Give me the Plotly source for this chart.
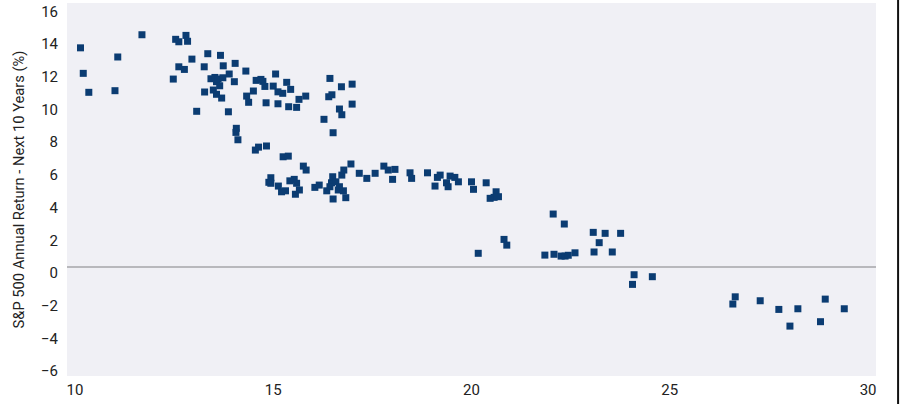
import plotly.graph_objects as go

# Shiller-style CAPE (x) vs S&P 500 annual return over the next 10 years (y, %)
cape = [
    10.14, 10.21, 10.35, 11.01, 11.08, 11.69, 12.48, 12.54, 12.62, 12.80,
    12.84, 12.62, 12.76, 12.95, 13.07, 13.26, 13.27, 13.35, 13.43, 13.49,
    13.53, 13.57, 13.61, 13.65, 13.57, 13.70, 13.67, 13.74, 13.73, 13.89,
    13.87, 14.02, 14.04, 14.07, 14.06, 14.11, 14.31, 14.33, 14.38, 14.50,
    14.55, 14.63, 14.83, 14.57, 14.69, 14.74, 14.79, 14.82, 15.06, 15.00,
    15.12, 15.24, 15.12, 15.34, 15.44, 15.39, 15.59, 15.65, 15.82,
    14.89, 14.94, 14.94, 15.13, 15.21, 15.31, 15.25, 15.38, 15.53, 15.42,
    15.56, 15.59, 15.66, 15.76, 15.83, 16.05, 16.16, 16.35, 16.47, 16.50,
    16.58, 16.64, 16.77, 16.51, 16.83, 16.73, 16.78, 16.96, 17.17, 17.36,
    17.57, 16.43, 16.67, 17.79, 17.90, 18.07, 18.01, 18.45, 18.49, 18.89,
    19.14, 19.21, 19.08, 19.37, 19.41, 19.46, 19.58, 19.67, 20.00, 20.05,
    20.37, 20.62, 20.57, 20.47, 20.68, 20.82, 20.89, 20.17, 21.85, 22.06,
    22.34, 22.08, 22.26, 22.36, 22.44, 22.61, 23.07, 23.37, 23.76, 23.22,
    23.09, 23.55, 24.10, 24.06, 24.56, 26.65, 26.59, 27.28, 27.75, 28.03,
    28.23, 28.92, 28.80, 29.40,
    16.43, 16.72, 16.40, 16.48, 16.67, 16.73, 16.28, 16.51, 16.99, 16.99,
]
returns_10y = [
    13.40, 11.84, 10.68, 10.78, 12.84, 14.20, 11.49, 13.92, 13.77, 14.16,
    13.80, 12.24, 12.08, 12.71, 9.52, 12.24, 10.70, 13.04, 11.51, 10.82,
    11.59, 11.33, 11.49, 11.08, 10.56, 10.33, 12.94, 12.30, 11.57, 11.80,
    9.49, 11.33, 12.45, 8.48, 8.23, 7.78, 11.98, 10.45, 10.07, 10.76,
    7.15, 7.33, 7.40, 11.41, 11.47, 11.35, 11.04, 10.04, 11.80, 11.06,
    10.71, 10.62, 9.98, 11.29, 10.86, 9.80, 9.76, 10.25, 10.45,
    5.18, 5.46, 5.12, 4.95, 4.60, 4.66, 6.74, 6.78, 5.36, 5.27,
    4.45, 5.12, 4.71, 6.17, 5.93, 4.87, 5.01, 4.66, 5.15, 5.52,
    5.21, 4.71, 4.66, 4.16, 4.24, 5.62, 5.93, 6.30, 5.73, 5.42,
    5.73, 4.91, 4.91, 6.17, 5.93, 5.97, 5.36, 5.76, 5.42, 5.76,
    5.48, 5.62, 4.95, 5.15, 4.91, 5.56, 5.48, 5.21, 5.21, 4.75,
    5.15, 4.60, 4.26, 4.20, 4.30, 1.69, 1.34, 0.84, 0.73, 3.24,
    2.63, 0.78, 0.67, 0.67, 0.72, 0.87, 2.12, 2.06, 2.06, 1.49,
    0.92, 0.92, -0.47, -1.06, -0.59, -1.82, -2.26, -2.06, -2.59, -3.61,
    -2.55, -1.96, -3.34, -2.55,
    11.53, 11.02, 10.41, 10.53, 9.66, 9.31, 9.03, 8.21, 11.18, 9.96,
]

x_ticks = [10, 15, 20, 25, 30]
y_ticks = [-6, -4, -2, 0, 2, 4, 6, 8, 10, 12, 14, 16]
y_title = "S&P 500 Annual Return - Next 10 Years (%)"

fig = go.Figure()
fig.add_trace(go.Scatter(
    x=cape, y=returns_10y, mode="markers",
    marker=dict(symbol="square", size=7, color="#0b3c72"),
    hoverinfo="x+y", showlegend=False,
))

fig.update_layout(
    width=901, height=404,
    margin=dict(l=67, r=25, t=3, b=28),
    paper_bgcolor="white",
    plot_bgcolor="#f0f0f5",
    font=dict(family="Roboto, Inter, sans-serif", size=15, color="#222222"),
    xaxis=dict(
        range=[9.8, 30.2], tickvals=x_ticks, showgrid=False, zeroline=False,
        showline=False, ticks="", ticklabelstandoff=3,
        tickfont=dict(size=15, color="#222222"),
    ),
    yaxis=dict(
        range=[-6.66, 16.14], tickvals=y_ticks, showgrid=False,
        zeroline=True, zerolinecolor="#b8b8bc", zerolinewidth=2,
        showline=False, ticks="", ticklabelstandoff=8, ticklabelshift=6,
        tickfont=dict(size=15, color="#222222"),
        title=dict(text=y_title, font=dict(size=14.7, color="#222222"), standoff=12),
    ),
)

fig.add_shape(type="line", xref="paper", yref="paper",
              x0=1.0273, x1=1.0273, y0=-0.075, y1=1.008,
              line=dict(color="#111111", width=2))

fig.write_html(
    "out.html",
    config={"displayModeBar": False},
    post_script="document.body.style.margin='0';document.body.style.padding='0';",
)
